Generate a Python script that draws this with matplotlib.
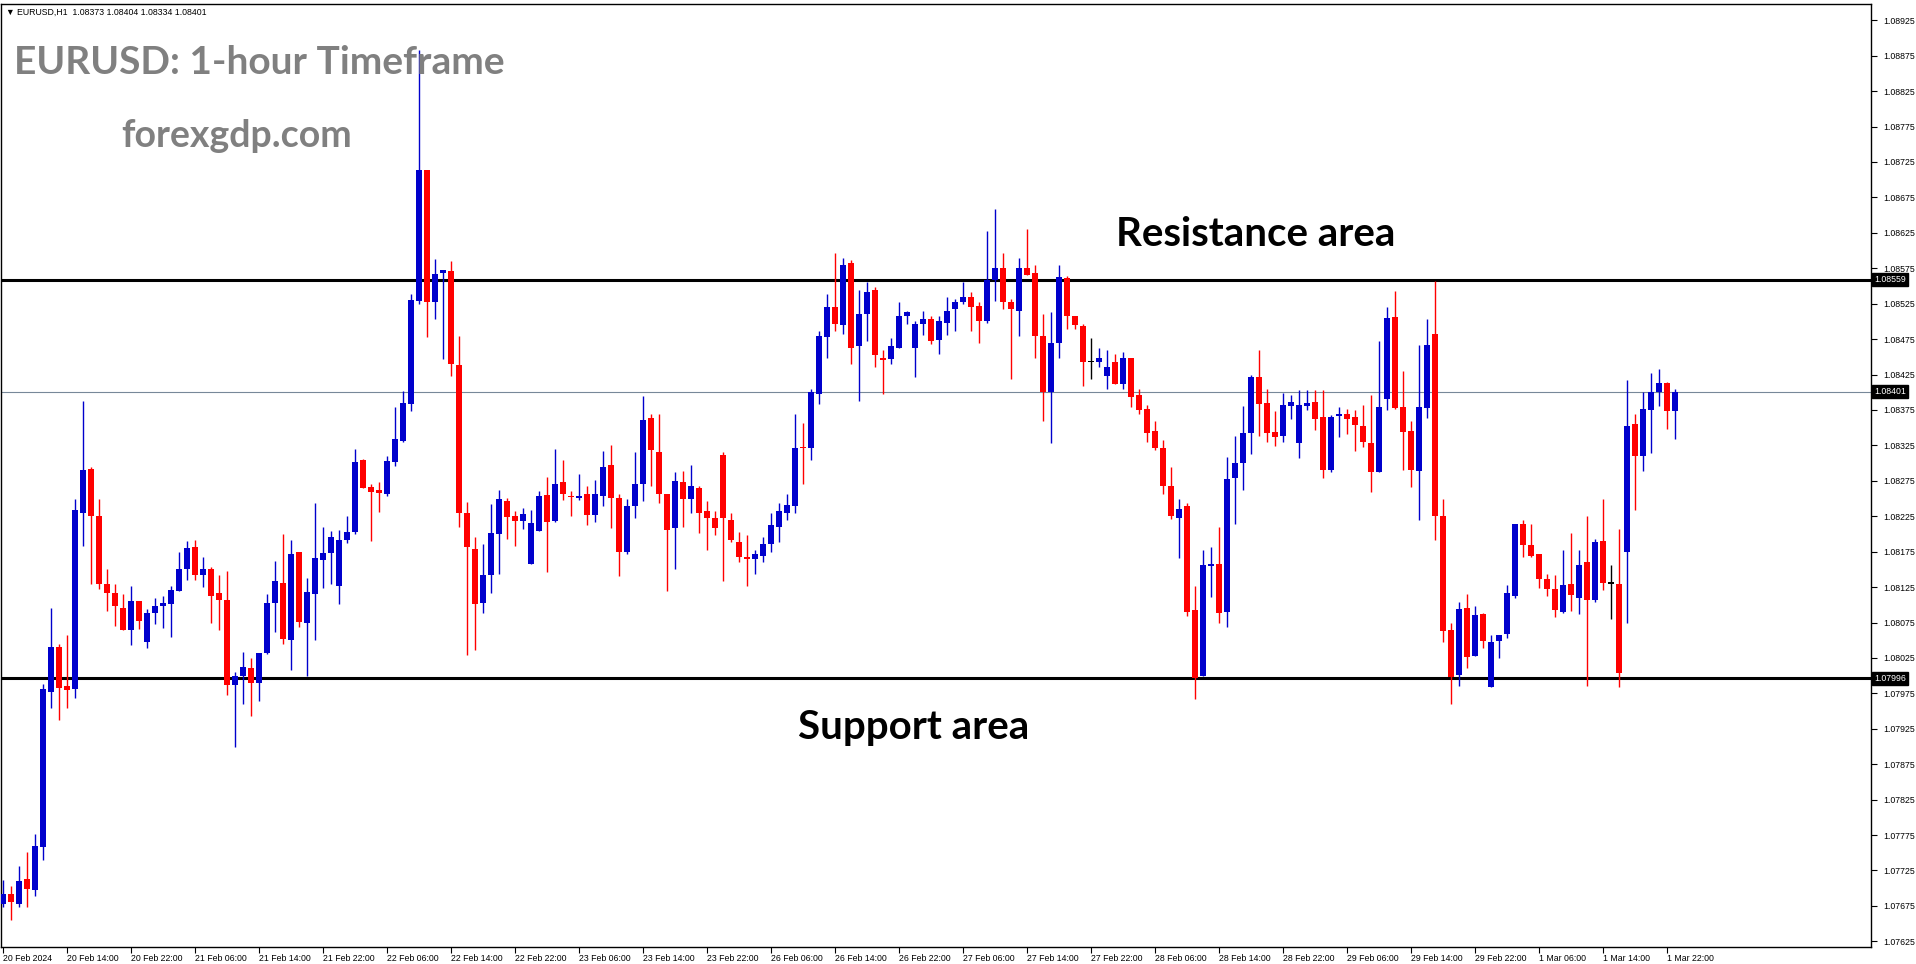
import numpy as np
import pandas as pd
import matplotlib
matplotlib.use('Agg')
import matplotlib.pyplot as plt
from matplotlib.transforms import ScaledTranslation

symbol = 'EURUSD'
period = 'H1'

opens = [
	1.07678, 1.07692, 1.07678, 1.07713, 1.07697, 1.07758, 1.07977, 1.08041, 1.07985, 1.07981,
	1.08230, 1.08291, 1.08225, 1.08130, 1.08117, 1.08096, 1.08064, 1.08106, 1.08047, 1.08088,
	1.08098, 1.08101, 1.08119, 1.08150, 1.08181, 1.08142, 1.08151, 1.08116, 1.08107, 1.07987,
	1.07999, 1.08011, 1.07989, 1.08032, 1.08102, 1.08131, 1.08050, 1.08174, 1.08074, 1.08115,
	1.08163, 1.08173, 1.08126, 1.08191, 1.08203, 1.08304, 1.08266, 1.08262, 1.08256, 1.08301,
	1.08331, 1.08384, 1.08529, 1.08714, 1.08528, 1.08568, 1.08571, 1.08438, 1.08229, 1.08179,
	1.08103, 1.08142, 1.08200, 1.08247, 1.08225, 1.08218, 1.08157, 1.08204, 1.08255, 1.08218,
	1.08273, 1.08254, 1.08251, 1.08256, 1.08227, 1.08253, 1.08297, 1.08251, 1.08175, 1.08239,
	1.08271, 1.08364, 1.08316, 1.08256, 1.08208, 1.08274, 1.08249, 1.08265, 1.08233, 1.08223,
	1.08311, 1.08219, 1.08189, 1.08167, 1.08165, 1.08169, 1.08186, 1.08210, 1.08230, 1.08239,
	1.08323, 1.08322, 1.08398, 1.08478, 1.08521, 1.08495, 1.08582, 1.08465, 1.08510, 1.08544,
	1.08449, 1.08447, 1.08462, 1.08507, 1.08462, 1.08496, 1.08504, 1.08474, 1.08498, 1.08517,
	1.08528, 1.08535, 1.08522, 1.08501, 1.08559, 1.08575, 1.08528, 1.08514, 1.08575, 1.08569,
	1.08480, 1.08401, 1.08470, 1.08561, 1.08507, 1.08494, 1.08442, 1.08443, 1.08423, 1.08442,
	1.08411, 1.08449, 1.08396, 1.08377, 1.08345, 1.08322, 1.08267, 1.08223, 1.08240, 1.08092,
	1.07999, 1.08155, 1.08158, 1.08090, 1.08279, 1.08300, 1.08343, 1.08421, 1.08385, 1.08344,
	1.08338, 1.08381, 1.08329, 1.08381, 1.08386, 1.08365, 1.08290, 1.08367, 1.08369, 1.08365,
	1.08352, 1.08329, 1.08287, 1.08391, 1.08506, 1.08379, 1.08345, 1.08289, 1.08378, 1.08482,
	1.08225, 1.08065, 1.08001, 1.08095, 1.08028, 1.08087, 1.07984, 1.08049, 1.08059, 1.08113,
	1.08214, 1.08185, 1.08171, 1.08137, 1.08122, 1.08090, 1.08129, 1.08110, 1.08160, 1.08107,
	1.08190, 1.08130, 1.08129, 1.08175, 1.08355, 1.08310, 1.08375, 1.08400, 1.08413, 1.08373,
]
highs = [
	1.07712, 1.07703, 1.07731, 1.07751, 1.07777, 1.07988, 1.08096, 1.08044, 1.08057, 1.08249,
	1.08387, 1.08295, 1.08249, 1.08150, 1.08130, 1.08115, 1.08126, 1.08106, 1.08094, 1.08110,
	1.08113, 1.08126, 1.08174, 1.08190, 1.08191, 1.08167, 1.08153, 1.08142, 1.08148, 1.08005,
	1.08033, 1.08025, 1.08032, 1.08115, 1.08162, 1.08200, 1.08191, 1.08174, 1.08138, 1.08244,
	1.08210, 1.08204, 1.08205, 1.08225, 1.08320, 1.08306, 1.08270, 1.08273, 1.08310, 1.08379,
	1.08402, 1.08538, 1.08883, 1.08714, 1.08588, 1.08573, 1.08585, 1.08480, 1.08245, 1.08196,
	1.08186, 1.08242, 1.08262, 1.08251, 1.08232, 1.08237, 1.08234, 1.08261, 1.08281, 1.08320,
	1.08305, 1.08261, 1.08285, 1.08268, 1.08276, 1.08317, 1.08325, 1.08257, 1.08250, 1.08315,
	1.08395, 1.08369, 1.08370, 1.08257, 1.08288, 1.08289, 1.08297, 1.08267, 1.08246, 1.08233,
	1.08315, 1.08229, 1.08203, 1.08198, 1.08178, 1.08195, 1.08229, 1.08243, 1.08257, 1.08369,
	1.08356, 1.08405, 1.08487, 1.08539, 1.08597, 1.08589, 1.08587, 1.08545, 1.08555, 1.08549,
	1.08460, 1.08476, 1.08527, 1.08514, 1.08500, 1.08514, 1.08507, 1.08508, 1.08535, 1.08531,
	1.08555, 1.08541, 1.08528, 1.08628, 1.08659, 1.08596, 1.08532, 1.08589, 1.08631, 1.08579,
	1.08510, 1.08513, 1.08579, 1.08564, 1.08507, 1.08496, 1.08477, 1.08462, 1.08460, 1.08454,
	1.08457, 1.08449, 1.08404, 1.08382, 1.08359, 1.08332, 1.08295, 1.08250, 1.08243, 1.08127,
	1.08178, 1.08182, 1.08210, 1.08308, 1.08338, 1.08380, 1.08424, 1.08459, 1.08405, 1.08373,
	1.08399, 1.08396, 1.08403, 1.08403, 1.08403, 1.08403, 1.08368, 1.08379, 1.08377, 1.08375,
	1.08382, 1.08396, 1.08473, 1.08521, 1.08543, 1.08430, 1.08359, 1.08466, 1.08503, 1.08557,
	1.08250, 1.08074, 1.08104, 1.08115, 1.08098, 1.08089, 1.08057, 1.08058, 1.08128, 1.08214,
	1.08219, 1.08214, 1.08171, 1.08143, 1.08142, 1.08177, 1.08201, 1.08178, 1.08226, 1.08193,
	1.08249, 1.08156, 1.08207, 1.08417, 1.08369, 1.08400, 1.08427, 1.08433, 1.08414, 1.08404,
]
lows = [
	1.07674, 1.07655, 1.07674, 1.07674, 1.07689, 1.07740, 1.07954, 1.07937, 1.07954, 1.07969,
	1.08183, 1.08130, 1.08123, 1.08091, 1.08070, 1.08064, 1.08043, 1.08066, 1.08039, 1.08073,
	1.08067, 1.08054, 1.08119, 1.08135, 1.08135, 1.08125, 1.08074, 1.08064, 1.07972, 1.07899,
	1.07960, 1.07943, 1.07964, 1.08030, 1.08061, 1.08044, 1.08008, 1.08068, 1.07999, 1.08050,
	1.08124, 1.08129, 1.08101, 1.08187, 1.08200, 1.08265, 1.08190, 1.08231, 1.08253, 1.08296,
	1.08330, 1.08374, 1.08524, 1.08478, 1.08503, 1.08447, 1.08423, 1.08210, 1.08029, 1.08036,
	1.08088, 1.08117, 1.08144, 1.08193, 1.08183, 1.08207, 1.08157, 1.08204, 1.08147, 1.08217,
	1.08248, 1.08226, 1.08248, 1.08212, 1.08217, 1.08239, 1.08209, 1.08140, 1.08172, 1.08223,
	1.08246, 1.08267, 1.08243, 1.08119, 1.08150, 1.08210, 1.08229, 1.08201, 1.08177, 1.08198,
	1.08134, 1.08189, 1.08161, 1.08126, 1.08143, 1.08160, 1.08175, 1.08189, 1.08220, 1.08229,
	1.08271, 1.08305, 1.08384, 1.08449, 1.08487, 1.08482, 1.08440, 1.08387, 1.08472, 1.08435,
	1.08397, 1.08440, 1.08462, 1.08496, 1.08421, 1.08481, 1.08468, 1.08454, 1.08481, 1.08486,
	1.08524, 1.08486, 1.08470, 1.08498, 1.08529, 1.08517, 1.08418, 1.08479, 1.08566, 1.08448,
	1.08359, 1.08329, 1.08448, 1.08489, 1.08489, 1.08409, 1.08419, 1.08436, 1.08404, 1.08411,
	1.08405, 1.08379, 1.08370, 1.08330, 1.08319, 1.08256, 1.08221, 1.08166, 1.08084, 1.07967,
	1.07999, 1.08111, 1.08074, 1.08068, 1.08214, 1.08262, 1.08313, 1.08338, 1.08330, 1.08324,
	1.08330, 1.08362, 1.08307, 1.08375, 1.08347, 1.08279, 1.08288, 1.08337, 1.08341, 1.08317,
	1.08323, 1.08259, 1.08287, 1.08375, 1.08377, 1.08290, 1.08266, 1.08220, 1.08364, 1.08192,
	1.08047, 1.07960, 1.07985, 1.08011, 1.08028, 1.08039, 1.07984, 1.08025, 1.08053, 1.08110,
	1.08168, 1.08168, 1.08124, 1.08113, 1.08083, 1.08089, 1.08091, 1.08087, 1.07985, 1.08104,
	1.08121, 1.08080, 1.07984, 1.08074, 1.08234, 1.08289, 1.08314, 1.08381, 1.08348, 1.08334,
]
closes = [
	1.07692, 1.07680, 1.07710, 1.07699, 1.07760, 1.07981, 1.08040, 1.07982, 1.07980, 1.08234,
	1.08290, 1.08225, 1.08129, 1.08117, 1.08098, 1.08064, 1.08105, 1.08077, 1.08089, 1.08099,
	1.08103, 1.08121, 1.08150, 1.08180, 1.08142, 1.08150, 1.08112, 1.08107, 1.07987, 1.07999,
	1.08012, 1.07989, 1.08032, 1.08102, 1.08133, 1.08052, 1.08172, 1.08076, 1.08118, 1.08166,
	1.08173, 1.08196, 1.08191, 1.08203, 1.08301, 1.08265, 1.08259, 1.08258, 1.08303, 1.08334,
	1.08385, 1.08530, 1.08714, 1.08528, 1.08567, 1.08573, 1.08440, 1.08229, 1.08181, 1.08101,
	1.08142, 1.08201, 1.08249, 1.08224, 1.08218, 1.08228, 1.08215, 1.08253, 1.08217, 1.08270,
	1.08256, 1.08252, 1.08254, 1.08227, 1.08256, 1.08294, 1.08251, 1.08174, 1.08240, 1.08271,
	1.08361, 1.08318, 1.08256, 1.08206, 1.08275, 1.08249, 1.08267, 1.08229, 1.08223, 1.08208,
	1.08222, 1.08191, 1.08167, 1.08164, 1.08172, 1.08186, 1.08213, 1.08233, 1.08241, 1.08322,
	1.08321, 1.08401, 1.08480, 1.08520, 1.08496, 1.08579, 1.08462, 1.08510, 1.08541, 1.08452,
	1.08445, 1.08465, 1.08507, 1.08513, 1.08497, 1.08504, 1.08473, 1.08500, 1.08515, 1.08528,
	1.08534, 1.08520, 1.08500, 1.08558, 1.08575, 1.08528, 1.08517, 1.08576, 1.08566, 1.08480,
	1.08401, 1.08470, 1.08562, 1.08507, 1.08495, 1.08443, 1.08442, 1.08449, 1.08436, 1.08411,
	1.08448, 1.08394, 1.08375, 1.08343, 1.08322, 1.08267, 1.08225, 1.08235, 1.08090, 1.07997,
	1.08156, 1.08157, 1.08089, 1.08278, 1.08300, 1.08343, 1.08422, 1.08383, 1.08343, 1.08337,
	1.08382, 1.08386, 1.08382, 1.08385, 1.08362, 1.08290, 1.08365, 1.08370, 1.08362, 1.08354,
	1.08330, 1.08287, 1.08379, 1.08505, 1.08378, 1.08344, 1.08290, 1.08379, 1.08466, 1.08225,
	1.08063, 1.07998, 1.08094, 1.08026, 1.08085, 1.08049, 1.08047, 1.08058, 1.08116, 1.08214,
	1.08185, 1.08169, 1.08137, 1.08122, 1.08093, 1.08128, 1.08114, 1.08156, 1.08107, 1.08188,
	1.08131, 1.08130, 1.08004, 1.08352, 1.08310, 1.08377, 1.08400, 1.08413, 1.08374, 1.08401,
]

resistance = 1.08559
support = 1.07996

# hourly bars, weekend skipped
bar_times = list(pd.date_range('2024-02-20 06:00', '2024-02-23 23:00', freq='h')) + \
	list(pd.date_range('2024-02-26 00:00', '2024-03-01 23:00', freq='h'))

BULL = '#0000CC'
BEAR = '#FF0000'
TICK_FONT = ['Liberation Sans', 'DejaVu Sans']
BIG_FONT = ['Lato', 'DejaVu Sans']


def main():
	o = np.array(opens)
	h = np.array(highs)
	l = np.array(lows)
	c = np.array(closes)
	x = np.arange(len(o))
	cols = np.where(c > o, BULL, np.where(c < o, BEAR, 'black'))

	fig = plt.figure(figsize=(19.16, 9.64), dpi=100)
	ax = fig.add_axes([1 / 1916, 17 / 964, 1870 / 1916, 943 / 964])

	ax.axhline(closes[-1], color='#778899', lw=0.8, zorder=1)
	ax.axhline(resistance, color='black', lw=2.2, zorder=1)
	ax.axhline(support, color='black', lw=2.2, zorder=1)

	ax.vlines(x, l, h, colors=cols, lw=1.0, zorder=2)
	body = np.maximum(np.abs(c - o), 0.000018)
	ax.bar(x, body, bottom=np.minimum(o, c), width=0.65, color=cols, lw=0, zorder=3)

	ax.set_xlim(-0.25, 233.5)
	ax.set_ylim(1.07617, 1.08948)

	# x axis: every 8 bars
	ticks = x[::8]
	labels = []
	for i in ticks:
		t = bar_times[i]
		if i == 0:
			labels.append(f'{t.day} {t:%b %Y}')
		else:
			labels.append(f'{t.day} {t:%b %H:%M}')
	ax.set_xticks(ticks)
	ax.set_xticklabels(labels, fontsize=6.3, family=TICK_FONT)
	off = ScaledTranslation(2 / 100, 0, fig.dpi_scale_trans)
	for lbl in ax.get_xticklabels():
		lbl.set_horizontalalignment('left')
		lbl.set_transform(lbl.get_transform() + off)
	ax.tick_params(axis='x', length=4, width=0.8, pad=1, direction='out')

	# price axis on the right
	yt = np.arange(1.07625, 1.08926, 0.0005)
	ax.yaxis.tick_right()
	ax.set_yticks(yt)
	ax.set_yticklabels([f'{v:.5f}' for v in yt], fontsize=6.3, family=TICK_FONT)
	ax.tick_params(axis='y', length=4, width=0.8, pad=5, direction='out')

	for s in ax.spines.values():
		s.set_color('black')
		s.set_linewidth(1.0)

	boxoff = ScaledTranslation(3 / 100, 0, fig.dpi_scale_trans)
	for p in (resistance, closes[-1], support):
		ax.text(1.0, p, f'{p:.5f}', transform=ax.get_yaxis_transform() + boxoff,
			ha='left', va='center', fontsize=6.3, family=TICK_FONT, color='white',
			bbox=dict(boxstyle='square,pad=0.25', fc='black', ec='black'), zorder=5, clip_on=False)

	W, H = 1916, 964
	fig.text(6 / W, 1 - 12 / H,
		f'\u25bc {symbol},{period}  {opens[-1]:.5f} {highs[-1]:.5f} {lows[-1]:.5f} {closes[-1]:.5f}',
		fontsize=6.3, family=TICK_FONT, va='center', ha='left')
	fig.text(14 / W, 1 - 62 / H, f'{symbol}: 1-hour Timeframe', fontsize=28, fontweight='bold',
		family=BIG_FONT, color='#808080', va='center', ha='left')
	fig.text(121 / W, 1 - 136 / H, 'forexgdp.com', fontsize=27, fontweight='bold',
		family=BIG_FONT, color='#808080', va='center', ha='left')
	fig.text(1116 / W, 1 - 234 / H, 'Resistance area', fontsize=29, fontweight='bold',
		family=BIG_FONT, color='black', va='center', ha='left')
	fig.text(798 / W, 1 - 728 / H, 'Support area', fontsize=29, fontweight='bold',
		family=BIG_FONT, color='black', va='center', ha='left')

	fig.savefig('out.png', dpi=100, facecolor='white')


if __name__ == '__main__':
	main()
